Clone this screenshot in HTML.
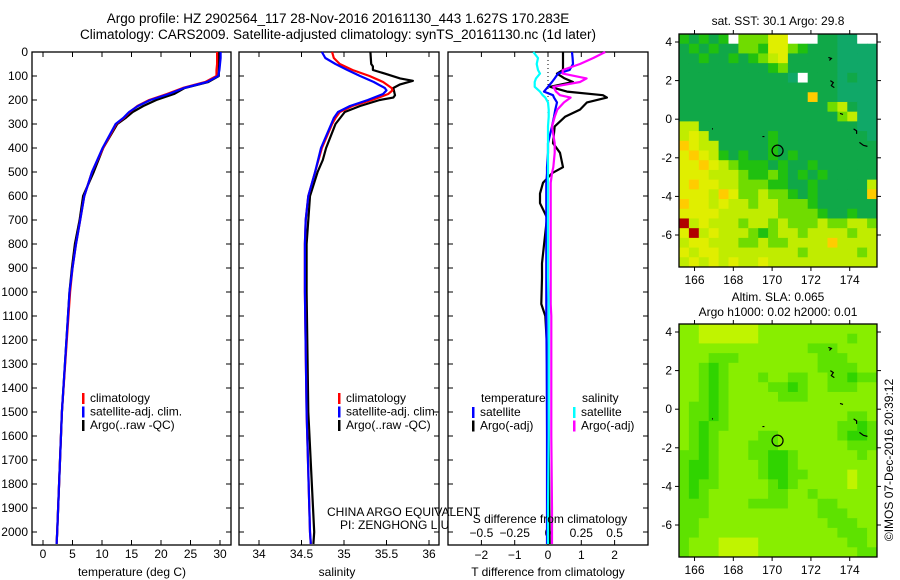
<!DOCTYPE html>
<html><head><meta charset="utf-8"><style>
body{margin:0;background:#fff;}
svg{display:block;font-family:"Liberation Sans",sans-serif;}
</style></head><body>
<svg id="c" width="900" height="580" viewBox="0 0 900 580"></svg>
<script>
// ---- profile data ----
const tDepth=[0,25,50,75,100,125,150,175,200,225,250,275,300,400,500,600,700,800,900,1000,1500,2000,2050];
const tClim=[29.5,29.5,29.5,29.4,29.4,27.5,23.7,21,18,16,14.7,13.7,12.4,10.2,8.3,7.0,6.3,5.6,5.0,4.6,3.2,2.4,2.3];
const tSat=[30.1,30.1,30.0,29.9,29.7,27.8,23.9,21.3,18.2,16.1,14.6,13.6,12.3,10.1,8.3,7.0,6.3,5.6,5.0,4.5,3.2,2.4,2.3];
const tArgo=[29.8,29.8,29.8,29.8,29.8,28.0,24.0,22.2,19.2,17.0,15.2,14.0,12.6,10.2,8.6,6.8,6.2,5.4,4.9,4.5,3.2,2.4,2.3];
const sDepth=[0,25,50,75,100,125,150,160,175,200,225,250,275,300,400,500,600,700,800,1000,1500,2000,2050];
const sClim=[34.86,34.88,34.95,35.1,35.3,35.46,35.56,35.57,35.52,35.33,35.1,34.95,34.9,34.86,34.74,34.66,34.58,34.55,34.54,34.54,34.56,34.6,34.61];
const sSat=[34.74,34.78,34.9,35.04,35.19,35.35,35.48,35.5,35.46,35.28,35.07,34.93,34.88,34.85,34.73,34.66,34.58,34.55,34.54,34.54,34.56,34.6,34.61];
const aDepth=[0,50,60,75,90,110,120,135,150,180,190,200,225,250,300,400,450,500,600,800,1000,1500,2000,2050];
const sArgo=[35.31,35.32,35.34,35.34,35.48,35.66,35.81,35.66,35.58,35.6,35.58,35.42,35.19,35.01,34.9,34.79,34.75,34.69,34.6,34.56,34.56,34.58,34.65,34.64];
// ---- difference data ----
const dDepth=[0,25,50,75,90,110,125,145,165,180,190,210,240,270,310,380,420,480,505,545,590,630,690,880,940,1050,1100,1300,1600,1900,2050];
const dTArgo=[0.45,0.45,0.45,0.45,0.27,0.5,0.75,0.06,0.57,1.65,1.77,1.17,0.96,0.51,0.2,0.15,0.36,0.45,0.12,-0.15,-0.24,-0.24,-0.03,-0.18,-0.18,-0.2,-0.08,0.0,0.02,0.04,0.05];
const dTSat=[0.72,0.74,0.75,0.65,0.3,0.2,0.12,0.0,-0.12,0.15,0.18,0.27,0.22,0.18,0.12,0.0,0.0,-0.03,-0.03,-0.05,-0.05,-0.05,-0.05,-0.05,-0.05,-0.05,-0.05,-0.04,-0.03,-0.03,-0.03];
const dSSat=[-0.11,-0.075,-0.085,-0.075,-0.06,-0.09,-0.1,-0.1,-0.06,-0.04,-0.02,0.0,0.005,0.005,0.0,0.0,0.0,0.0,0.0,0.0,0.0,0.0,0.0,0.0,0.0,0.005,0.005,0.005,0.005,0.0,0.0];
const dSArgo=[0.43,0.34,0.24,0.11,0.11,0.29,0.24,0.04,0.06,0.09,0.17,0.12,0.07,0.05,0.03,0.05,0.05,0.04,0.03,0.02,0.02,0.02,0.02,0.02,0.02,0.02,0.025,0.025,0.025,0.03,0.03];
const depthTicks=[0,100,200,300,400,500,600,700,800,900,1000,1100,1200,1300,1400,1500,1600,1700,1800,1900,2000];
const tTicks=[0,5,10,15,20,25,30];
const sTicks=[34,34.5,35,35.5,36];
const sTickLabels=["34","34.5","35","35.5","36"];
const dTTicks=[-2,-1,0,1,2];
const dSTicks=[-0.5,-0.25,0,0.25,0.5];
const dSTickLabels=["\u22120.5","\u22120.25","0","0.25","0.5"];
// ---- maps (0.5 deg cells, rows north->south) ----
const sstRows=["gGgGgwlllYYwwwGGTTww","GgGgGGllgYYlgGGGTTTT","GGgGGgGglyYGGGGGTTTT","GGGGGGGGGglGGGGGTTTT","GGGGGGGGGGGTwGGGTGTT","GGGGGGGGGGGGGGGGTTTT","GGGGGGGGGGGGGoGGTTTT","GGGGGGGGGGGGGGGlyGTT","GGGGGGGGGGGGGGGGlyTT","yyGGGGGGGGGGGGGGGGTT","yYyGGGGGGgGGGGGGGGGT","oYyyGGGGGgGGGGGGGGGG","YoYygGgGGgGgGGGGGGGG","YYoYylgggGgGGgGGGGGG","YYYyyylgglgGgGgGGGGG","YoYYyylllggGGgGGGGGy","YYYyoYllyllgGgGGGGGo","oYYyYyylyylllgGGGGGG","YYYYyyyyyyllllgGGgGG","RyYyyylyylylllyllyyl","YRyYyyylglyylyyyylyy","yYYyyyllyllyyyyoyyyy","YyYYyyyyyyyylyyyyyly","yYyYyYyyYyyyyyyyyyyy"];
const slaRows=["llyyyyyyllllllllllll","llyyyyyylllllllllmll","lllllllllllllmmmllll","lllmmmllllllllmmmlll","llmgmlllllllllmmmmll","llmgmlllmllmmllmmgmm","llmgmllllmmgmllmmmll","llmgmlllllmmmlllllll","lmmgmlllllllllllllll","lmmgmllllllllllllmml","lmgmmlllllllllllmmgm","lmgmllllmmllllllmggm","lmgmlllmmmlllllllmmm","mmgmlllmmggmllllllml","mggmllllmggmllllllll","mggmllllmggmmllllyll","mgmmlllllmgmlllllyll","mgmllllllmmllmllllll","mmmllllmmmmlllmmllll","mmmlllllllllllmmmlll","mmlllllllllllllmmmll","mmllllllllllllllmmml","mlllyyyylllllllllmml","mlllyyyyllllllllllmm"];
const lonTicks=[166,168,170,172,174];
const latTicks=[4,2,0,-2,-4,-6];
const argoLon=170.28, argoLat=-1.63;

const NS="http://www.w3.org/2000/svg";
const svg=document.getElementById('c');
function el(tag,attrs,parent){const e=document.createElementNS(NS,tag);for(const k in attrs)e.setAttribute(k,attrs[k]);(parent||svg).appendChild(e);return e;}
function txt(x,y,s,anchor,size,parent){const t=el('text',{x:x,y:y,'font-size':size||12,'text-anchor':anchor||'start',fill:'#000'},parent);t.textContent=s;return t;}

const TOP=52,BOT=545;
const yD=d=>TOP+0.24*d;
const xT=t=>43+5.9*t;
const xS=s=>259+85*(s-34);
const xDT=t=>548+33.3*t;
const xDS=s=>548+133.2*s;

let t1=txt(338,23,"Argo profile: HZ 2902564_117 28-Nov-2016 20161130_443 1.627S 170.283E","middle",13.5);

let t2=txt(338,39,"Climatology: CARS2009. Satellite-adjusted climatology: synTS_20161130.nc (1d later)","middle",13.5);


function panel(x0,x1,name){
  const g=el('g',{});
  
  
  el('rect',{x:x0,y:TOP,width:x1-x0,height:BOT-TOP,fill:'none',stroke:'#000','stroke-width':1.3},g);
  depthTicks.forEach(d=>{
    el('line',{x1:x0,x2:x0+5,y1:yD(d),y2:yD(d),stroke:'#000'},g);
    el('line',{x1:x1-5,x2:x1,y1:yD(d),y2:yD(d),stroke:'#000'},g);
  });
  return g;
}
function line(g,xs,ds,fx,color,name,w){
  const p=xs.map((v,i)=>fx(v).toFixed(1)+','+yD(ds[i]).toFixed(1)).join(' ');
  const pl=el('polyline',{points:p,fill:'none',stroke:color,'stroke-width':w||2.2,'stroke-linejoin':'round'},g);
  
  
}
function xticks(g,ticks,labels,fx,y){
  ticks.forEach((v,i)=>{
    const x=fx(v);
    el('line',{x1:x,x2:x,y1:TOP,y2:TOP+5,stroke:'#000'},g);
    el('line',{x1:x,x2:x,y1:BOT-5,y2:BOT,stroke:'#000'},g);
    const lab=txt(x,y,labels[i],'middle',12,g);
    
    
  });
}
function legend(g,x,y,items){
  items.forEach((it,i)=>{
    el('rect',{x:x,y:y+i*13.5-9,width:2.5,height:11,fill:it[0]},g);
    const l=txt(x+8,y+i*13.5,it[1],'start',12,g);
    
    
  });
}

const p1=panel(32,231,'temperature-panel');
depthTicks.forEach(d=>{const l=txt(28,yD(d)+4,String(d),'end',12,p1);});
xticks(p1,tTicks,tTicks.map(String),xT,558);
line(p1,tArgo,tDepth,xT,'#000','temp-argo-line');
line(p1,tClim,tDepth,xT,'#f00','temp-climatology-line');
line(p1,tSat,tDepth,xT,'#00f','temp-satellite-line');
let xl1=txt(132,576,"temperature (deg C)","middle",12,p1);
legend(p1,82,402,[['#f00','climatology'],['#00f','satellite-adj. clim.'],['#000','Argo(..raw -QC)']]);

const p2=panel(239,439,'salinity-panel');
xticks(p2,sTicks,sTickLabels,xS,558);
line(p2,sArgo,aDepth,xS,'#000','sal-argo-line');
line(p2,sClim,sDepth,xS,'#f00','sal-climatology-line');
line(p2,sSat,sDepth,xS,'#00f','sal-satellite-line');
let xl2=txt(337,576,"salinity","middle",12,p2);
legend(p2,338,402,[['#f00','climatology'],['#00f','satellite-adj. clim.'],['#000','Argo(..raw -QC)']]);
let cn=txt(327,516,"CHINA ARGO EQUIVALENT","start",12);
let pi=txt(340,529,"PI: ZENGHONG LIU","start",12);

const p3=panel(448,648,'difference-panel');
el('line',{x1:548,x2:548,y1:TOP,y2:yD(260),stroke:'#000','stroke-dasharray':'1,3'},p3);
xticks(p3,dTTicks,dTTicks.map(v=>v<0?'\u2212'+(-v):String(v)),xDT,559);
dSTicks.forEach((v,i)=>{const l=txt(xDS(v),537,dSTickLabels[i],'middle',12,p3);});
line(p3,dTArgo,dDepth,xDT,'#000','dT-argo-line');
line(p3,dTSat,dDepth,xDT,'#00f','dT-satellite-line');
line(p3,dSArgo,dDepth,xDS,'#f0f','dS-argo-line');
line(p3,dSSat,dDepth,xDS,'#0ff','dS-satellite-line');
let sd=txt(550,523,"S difference from climatology","middle",12,p3);
let td=txt(548,576,"T difference from climatology","middle",12,p3);
let lt=txt(481,402,"temperature","start",12,p3);
let ls=txt(582,402,"salinity","start",12,p3);
legend(p3,472,416,[['#00f','satellite'],['#000','Argo(-adj)']]);
legend(p3,573,416,[['#0ff','satellite'],['#f0f','Argo(-adj)']]);

const MX0=679,MX1=877;
const lonX=l=>MX0+(l-165.2)*19.4;
const sstCol={T:'#10a868',G:'#10a848',g:'#20c010',l:'#70dc00',y:'#c0ec00',Y:'#e0ee00',o:'#ffcc00',R:'#b00000',w:'#ffffff'};
const slaCol={y:'#c0f400',l:'#88ee00',m:'#5ee200',g:'#30d400',G:'#00c800'};
function map(y0,y1,rows,cols,name,topLabels){
  const g=el('g',{});
  
  
  const latY=la=>y0+8+(4-la)*19.3;
  const nr=rows.length,nc=rows[0].length,cw=(MX1-MX0)/nc,ch=(y1-y0)/nr;
  rows.forEach((r,i)=>{for(let j=0;j<nc;j++){
    const c=el('rect',{x:(MX0+j*cw).toFixed(2),y:(y0+i*ch).toFixed(2),width:(cw+0.4).toFixed(2),height:(ch+0.4).toFixed(2),fill:cols[r[j]]},g);
    
    
  }});
  el('path',{d:`M${lonX(172.9)} ${latY(3.2)} l3 1 l-2 2 M${lonX(173)} ${latY(2)} l3 2 l-2 3 l3 2 M${lonX(173.5)} ${latY(0.3)} l3 1 M${lonX(174.2)} ${latY(-0.5)} l3 2 l0 3 M${lonX(174.5)} ${latY(-1.2)} l4 3 l4 1 M${lonX(166.9)} ${latY(-0.5)} l1 0 M${lonX(169.5)} ${latY(-0.9)} l2 0`,fill:'none',stroke:'#000','stroke-width':1.2},g);
  const ci=el('circle',{cx:lonX(argoLon),cy:latY(argoLat),r:5.5,fill:'none',stroke:'#000','stroke-width':1.2},g);
  
  el('rect',{x:MX0,y:y0,width:MX1-MX0,height:y1-y0,fill:'none',stroke:'#000','stroke-width':1.3},g);
  lonTicks.forEach(l=>{const x=lonX(l);el('line',{x1:x,x2:x,y1:y0-4,y2:y0,stroke:'#000'},g);el('line',{x1:x,x2:x,y1:y1,y2:y1+4,stroke:'#000'},g);
    const t=txt(x,y1+17,String(l),'middle',12,g);});
  latTicks.forEach(la=>{const y=latY(la);el('line',{x1:MX0-4,x2:MX0,y1:y,y2:y,stroke:'#000'},g);el('line',{x1:MX1,x2:MX1+4,y1:y,y2:y,stroke:'#000'},g);
    const t=txt(MX0-7,y+4,la<0?'-'+(-la):String(la),'end',12,g);});
  topLabels.forEach(l=>{const t=txt(778,l[1],l[0],'middle',12,g);});
}
map(34,267,sstRows,sstCol,'sst-map',[["sat. SST: 30.1  Argo: 29.8",25]]);
map(324,557,slaRows,slaCol,'sla-map',[["Altim. SLA: 0.065",301],["Argo h1000: 0.02 h2000: 0.01",316]]);
const cp=el('text',{x:893,y:460,'font-size':12,'text-anchor':'middle',transform:'rotate(-90 893 460)',fill:'#000'});
cp.textContent='\u00A9IMOS 07-Dec-2016 20:39:12';


</script>
</body></html>
